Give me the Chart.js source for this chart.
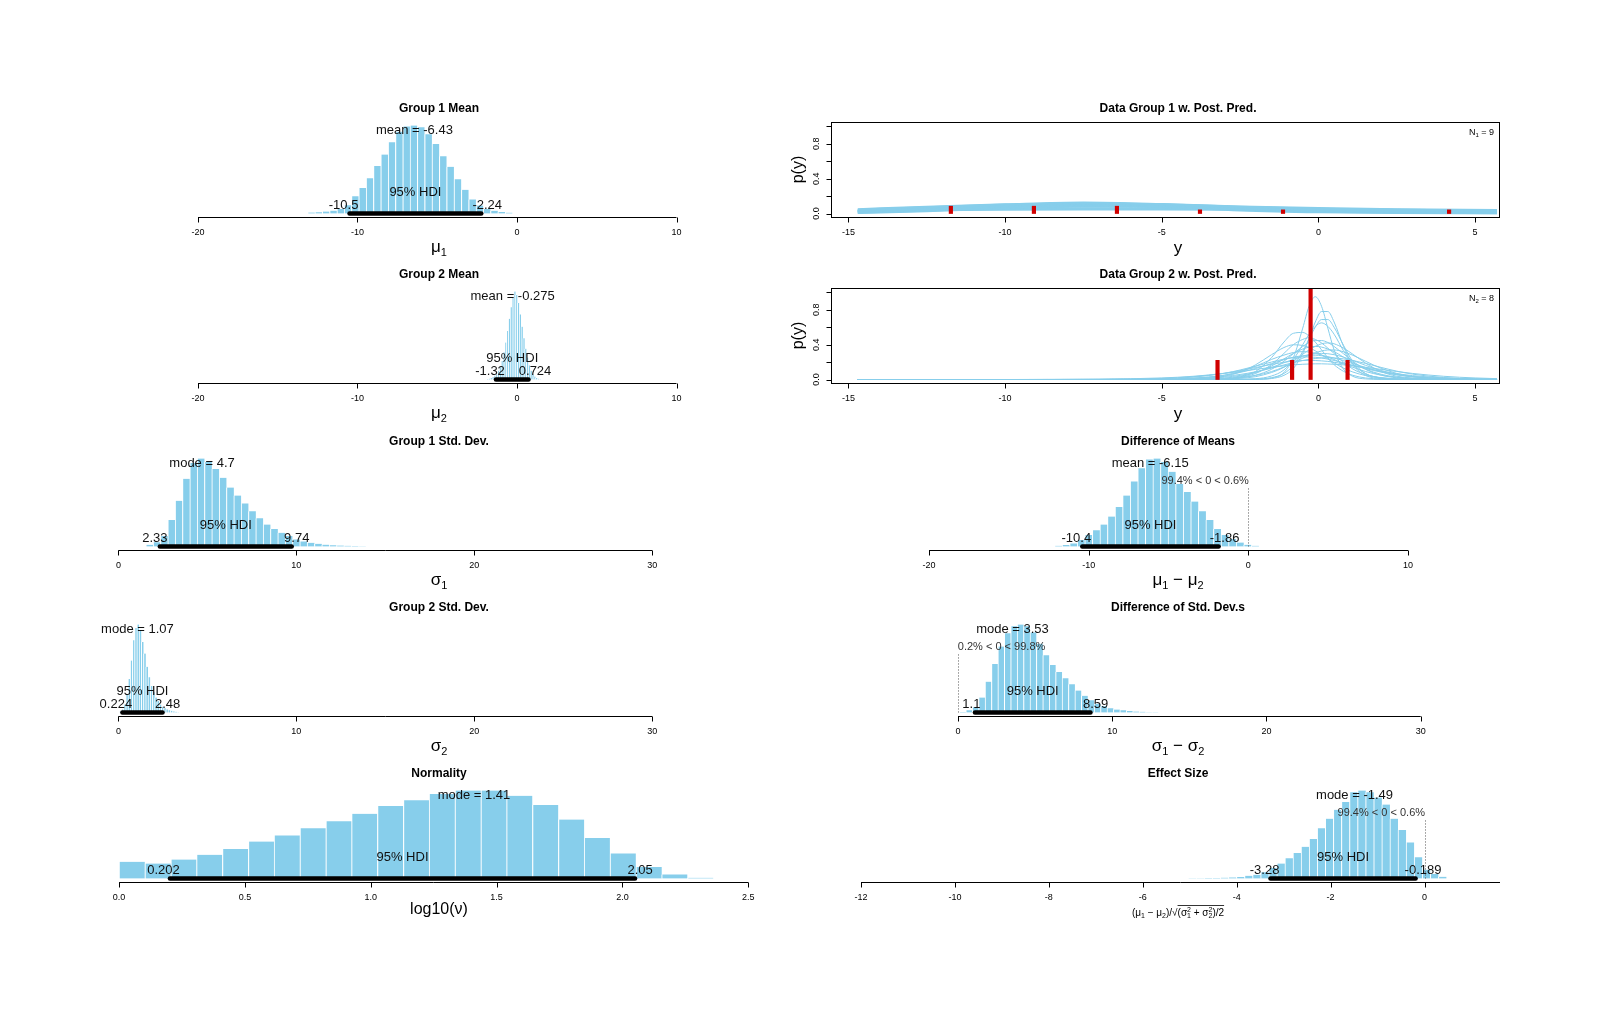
<!DOCTYPE html>
<html>
<head>
<meta charset="utf-8">
<title>BEST posterior summary</title>
<script src="https://cdn.jsdelivr.net/npm/chart.js@4.4.1/dist/chart.umd.min.js"></script>
<style>
  html, body { margin: 0; padding: 0; background: #fff; }
  body { position: relative; width: 1600px; height: 1021px; overflow: hidden; }
  canvas { position: absolute; }
</style>
</head>
<body>
<script>
// ---------- histogram data (bin centres, relative heights) ----------
const mu1Bins = [-12.90, -12.44, -11.98, -11.52, -11.06, -10.61, -10.15, -9.69, -9.23, -8.77, -8.31, -7.85, -7.39, -6.93,
  -6.48, -6.02, -5.56, -5.10, -4.64, -4.18, -3.72, -3.26, -2.80, -2.34, -1.89, -1.43, -0.97, -0.51];
const mu1Dens = [0.01, 0.014, 0.022, 0.032, 0.05, 0.095, 0.195, 0.29, 0.40, 0.54, 0.67, 0.81, 0.93, 0.99,
  1.0, 0.98, 0.90, 0.79, 0.65, 0.53, 0.39, 0.27, 0.16, 0.09, 0.05, 0.03, 0.017, 0.009];

const mu2Bins = [-1.850, -1.736, -1.623, -1.509, -1.396, -1.282, -1.168, -1.055, -0.941, -0.828, -0.714, -0.600, -0.487, -0.373,
  -0.260, -0.146, -0.032, 0.081, 0.195, 0.308, 0.422, 0.536, 0.649, 0.763, 0.876, 0.990, 1.104, 1.217, 1.331, 1.444];
const mu2Dens = [0.005, 0.009, 0.016, 0.028, 0.045, 0.068, 0.10, 0.145, 0.21, 0.31, 0.42, 0.55, 0.69, 0.82,
  0.93, 1.0, 0.96, 0.87, 0.74, 0.60, 0.47, 0.35, 0.25, 0.16, 0.10, 0.06, 0.033, 0.018, 0.009, 0.004];

const sigma1Bins = [1.750, 2.162, 2.574, 2.986, 3.398, 3.810, 4.222, 4.634, 5.046, 5.458, 5.870, 6.282, 6.694, 7.106, 7.518,
  7.930, 8.342, 8.754, 9.166, 9.578, 9.990, 10.402, 10.814, 11.226, 11.638, 12.050, 12.462, 12.874, 13.286, 13.698];
const sigma1Dens = [0.02, 0.047, 0.12, 0.30, 0.52, 0.77, 0.95, 1.0, 0.96, 0.88, 0.78, 0.67, 0.58, 0.49, 0.40,
  0.32, 0.25, 0.20, 0.155, 0.12, 0.08, 0.058, 0.042, 0.03, 0.021, 0.015, 0.011, 0.007, 0.005, 0.003];

const sigma2Bins = [0.100, 0.225, 0.350, 0.475, 0.600, 0.725, 0.850, 0.975, 1.100, 1.225, 1.350, 1.475, 1.600, 1.725,
  1.850, 1.975, 2.100, 2.225, 2.350, 2.475, 2.600, 2.725, 2.850, 2.975, 3.100, 3.225, 3.350];
const sigma2Dens = [0.01, 0.035, 0.09, 0.21, 0.38, 0.59, 0.82, 0.96, 1.0, 0.93, 0.80, 0.67, 0.52, 0.40,
  0.30, 0.23, 0.17, 0.13, 0.09, 0.065, 0.047, 0.035, 0.026, 0.019, 0.012, 0.007, 0.004];

const nuBins = [0.051, 0.154, 0.257, 0.359, 0.462, 0.565, 0.667, 0.770, 0.873, 0.975, 1.078, 1.181, 1.283, 1.386, 1.489,
  1.591, 1.694, 1.797, 1.899, 2.002, 2.105, 2.207, 2.310];
const nuDens = [0.19, 0.17, 0.215, 0.27, 0.335, 0.42, 0.49, 0.57, 0.65, 0.735, 0.825, 0.89, 0.96, 1.0, 1.0,
  0.94, 0.835, 0.67, 0.46, 0.285, 0.13, 0.046, 0.008];

const diffMuBins = [-11.900, -11.426, -10.952, -10.478, -10.004, -9.530, -9.056, -8.582, -8.108, -7.634, -7.160, -6.686,
  -6.212, -5.738, -5.264, -4.790, -4.316, -3.842, -3.368, -2.894, -2.420, -1.946, -1.472, -0.998, -0.524, -0.050, 0.424];
const diffMuDens = [0.008, 0.016, 0.035, 0.075, 0.13, 0.185, 0.25, 0.34, 0.45, 0.58, 0.74, 0.89,
  0.99, 1.0, 0.96, 0.85, 0.71, 0.62, 0.51, 0.40, 0.30, 0.20, 0.13, 0.085, 0.045, 0.02, 0.008];

const diffSdBins = [0.300, 0.716, 1.132, 1.548, 1.964, 2.380, 2.796, 3.212, 3.628, 4.044, 4.460, 4.876, 5.292, 5.708, 6.124,
  6.540, 6.956, 7.372, 7.788, 8.204, 8.620, 9.036, 9.452, 9.868, 10.284, 10.700, 11.116, 11.532, 11.948, 12.364, 12.780];
const diffSdDens = [0.005, 0.025, 0.06, 0.17, 0.35, 0.55, 0.75, 0.90, 0.98, 1.0, 0.98, 0.91, 0.78, 0.65, 0.54,
  0.46, 0.39, 0.32, 0.25, 0.19, 0.14, 0.10, 0.07, 0.047, 0.033, 0.024, 0.016, 0.011, 0.007, 0.004, 0.003];

const effBins = [-4.950, -4.778, -4.606, -4.434, -4.262, -4.090, -3.918, -3.746, -3.574, -3.402, -3.230, -3.058, -2.886,
  -2.714, -2.542, -2.370, -2.198, -2.026, -1.854, -1.682, -1.510, -1.338, -1.166, -0.994, -0.822, -0.650, -0.478, -0.306,
  -0.134, 0.038, 0.210, 0.382];
const effDens = [0.003, 0.004, 0.005, 0.006, 0.009, 0.012, 0.018, 0.03, 0.042, 0.07, 0.12, 0.17, 0.23,
  0.29, 0.36, 0.45, 0.57, 0.68, 0.78, 0.87, 0.98, 1.0, 0.98, 0.92, 0.84, 0.68, 0.55, 0.41,
  0.24, 0.10, 0.05, 0.02];

// ---------- posterior predictive curves ----------
const pp1X = [-14.7, -12.5, -10, -7.5, -5, -2.5, 0, 2.5, 5.7];
const pp1Curves = [
  [0.050, 0.078, 0.105, 0.125, 0.108, 0.080, 0.062, 0.050, 0.040],
  [0.044, 0.072, 0.102, 0.122, 0.106, 0.077, 0.056, 0.043, 0.033],
  [0.036, 0.065, 0.098, 0.119, 0.102, 0.071, 0.049, 0.035, 0.025],
  [0.028, 0.057, 0.093, 0.116, 0.099, 0.065, 0.041, 0.027, 0.018],
  [0.021, 0.049, 0.087, 0.112, 0.094, 0.058, 0.034, 0.020, 0.012],
  [0.015, 0.041, 0.080, 0.107, 0.088, 0.050, 0.027, 0.014, 0.007],
  [0.010, 0.033, 0.072, 0.101, 0.082, 0.043, 0.020, 0.009, 0.004],
  [0.006, 0.025, 0.063, 0.094, 0.075, 0.035, 0.014, 0.005, 0.002],
  [0.025, 0.045, 0.068, 0.088, 0.082, 0.066, 0.050, 0.037, 0.026],
  [0.032, 0.049, 0.066, 0.078, 0.075, 0.064, 0.053, 0.043, 0.034],
  [0.036, 0.046, 0.055, 0.060, 0.058, 0.053, 0.047, 0.041, 0.036],
  [0.030, 0.037, 0.043, 0.046, 0.045, 0.041, 0.036, 0.032, 0.028]
];
const obs1X = [-11.73, -9.08, -6.43, -3.78, -1.13, 4.17];
const obs1Y = [0.084, 0.084, 0.084, 0.042, 0.042, 0.042];

const pp2X = [-14.7, -10, -7, -5, -4, -3, -2.5, -2, -1.5, -1.1, -0.8, -0.5, -0.3, -0.1, 0.1, 0.3, 0.5, 0.8, 1.1, 1.5, 2, 2.5, 3, 4, 5, 5.7];
const pp2Curves = [
  [0, 0, 0, 0, 0, 0, 0, 0.002, 0.016, 0.081, 0.25, 0.59, 0.84, 0.95, 0.84, 0.59, 0.34, 0.12, 0.036, 0.007, 0.001, 0, 0, 0, 0, 0],
  [0, 0, 0, 0, 0, 0, 0, 0.002, 0.011, 0.048, 0.126, 0.30, 0.47, 0.66, 0.78, 0.78, 0.66, 0.38, 0.17, 0.048, 0.009, 0.001, 0, 0, 0, 0],
  [0, 0, 0, 0, 0, 0, 0.001, 0.005, 0.021, 0.07, 0.161, 0.323, 0.465, 0.60, 0.688, 0.688, 0.60, 0.393, 0.206, 0.07, 0.016, 0.003, 0.001, 0, 0, 0],
  [0, 0, 0, 0, 0.001, 0.009, 0.030, 0.094, 0.25, 0.43, 0.53, 0.54, 0.50, 0.43, 0.34, 0.25, 0.17, 0.094, 0.048, 0.018, 0.006, 0.002, 0.001, 0, 0, 0],
  [0, 0, 0, 0, 0, 0.001, 0.003, 0.009, 0.040, 0.11, 0.23, 0.40, 0.52, 0.61, 0.65, 0.61, 0.52, 0.33, 0.18, 0.067, 0.018, 0.004, 0.001, 0, 0, 0],
  [0, 0, 0, 0, 0.001, 0.008, 0.019, 0.05, 0.117, 0.21, 0.296, 0.379, 0.425, 0.447, 0.447, 0.425, 0.379, 0.296, 0.21, 0.117, 0.05, 0.019, 0.008, 0.001, 0, 0],
  [0, 0, 0, 0, 0.001, 0.005, 0.013, 0.033, 0.08, 0.14, 0.21, 0.29, 0.34, 0.38, 0.41, 0.42, 0.41, 0.36, 0.29, 0.19, 0.092, 0.038, 0.017, 0.003, 0, 0],
  [0, 0, 0, 0, 0.001, 0.009, 0.026, 0.070, 0.17, 0.30, 0.40, 0.46, 0.48, 0.46, 0.42, 0.36, 0.30, 0.20, 0.12, 0.058, 0.021, 0.007, 0.003, 0, 0, 0],
  [0, 0, 0, 0.001, 0.007, 0.038, 0.086, 0.17, 0.284, 0.367, 0.398, 0.391, 0.367, 0.329, 0.284, 0.237, 0.191, 0.131, 0.086, 0.046, 0.020, 0.008, 0.004, 0.001, 0, 0],
  [0, 0, 0, 0, 0.003, 0.017, 0.038, 0.080, 0.155, 0.236, 0.30, 0.35, 0.372, 0.38, 0.372, 0.35, 0.32, 0.257, 0.195, 0.12, 0.060, 0.027, 0.012, 0.002, 0, 0],
  [0, 0, 0, 0.001, 0.002, 0.011, 0.023, 0.047, 0.091, 0.144, 0.193, 0.245, 0.278, 0.308, 0.327, 0.339, 0.339, 0.318, 0.278, 0.21, 0.129, 0.070, 0.035, 0.008, 0.002, 0.001],
  [0, 0, 0, 0.004, 0.013, 0.050, 0.092, 0.153, 0.23, 0.28, 0.31, 0.32, 0.315, 0.30, 0.28, 0.256, 0.23, 0.18, 0.14, 0.092, 0.050, 0.026, 0.013, 0.004, 0.001, 0],
  [0, 0, 0, 0.002, 0.007, 0.026, 0.047, 0.084, 0.138, 0.192, 0.232, 0.267, 0.285, 0.296, 0.30, 0.296, 0.285, 0.257, 0.219, 0.163, 0.104, 0.060, 0.032, 0.009, 0.002, 0.001],
  [0, 0, 0, 0.003, 0.016, 0.049, 0.081, 0.127, 0.183, 0.227, 0.256, 0.273, 0.279, 0.279, 0.273, 0.263, 0.246, 0.217, 0.183, 0.139, 0.09, 0.055, 0.031, 0.010, 0.003, 0.001],
  [0, 0, 0.001, 0.01, 0.027, 0.072, 0.109, 0.154, 0.2, 0.234, 0.251, 0.259, 0.259, 0.255, 0.247, 0.234, 0.219, 0.192, 0.163, 0.126, 0.085, 0.055, 0.033, 0.012, 0.004, 0.002],
  [0, 0, 0.001, 0.004, 0.012, 0.036, 0.058, 0.089, 0.13, 0.167, 0.194, 0.218, 0.231, 0.241, 0.248, 0.25, 0.248, 0.237, 0.218, 0.185, 0.139, 0.096, 0.062, 0.023, 0.008, 0.004],
  [0, 0, 0.002, 0.013, 0.032, 0.072, 0.102, 0.138, 0.173, 0.198, 0.211, 0.218, 0.22, 0.218, 0.214, 0.208, 0.198, 0.18, 0.159, 0.13, 0.095, 0.066, 0.045, 0.018, 0.007, 0.004],
  [0, 0, 0.004, 0.018, 0.037, 0.070, 0.092, 0.116, 0.140, 0.157, 0.168, 0.175, 0.178, 0.18, 0.18, 0.178, 0.175, 0.168, 0.157, 0.140, 0.116, 0.092, 0.070, 0.037, 0.018, 0.010]
];
const obs2X = [-3.22, -0.84, -0.25, 0.93];
const obs2Y = [0.22, 0.22, 1.1, 0.22];

// ---------- axis ticks ----------
const meanTicks = [-20, -10, 0, 10];
const sdTicks = [0, 10, 20, 30];
const nuTicks = [0, 0.5, 1, 1.5, 2, 2.5];
const nuTickText = ['0.0', '0.5', '1.0', '1.5', '2.0', '2.5'];
const effTicks = [-12, -10, -8, -6, -4, -2, 0];
const ppXTicks = [-15, -10, -5, 0, 5];
const ppYTicks = [0, 0.2, 0.4, 0.6, 0.8, 1.0];
const ppYTickText = ['0.0', '', '0.4', '', '0.8', ''];

// ---------- layout ----------
const SKY = '#87CEEB';
const FONT = '"Liberation Sans", Arial, Helvetica, sans-serif';
const LEFT = { left: 0, width: 800, areaL: 100, areaR: 778, mid: 439 };
const RIGHT = { left: 770, width: 830, areaL: 831, areaR: 1500, mid: 1178 };
const ROW_TOP = [85, 251, 418, 584, 750];
const CANVAS_H = 180, AREA_TOP = 37, AREA_BOTTOM = 132;

function makeCanvas(col, row) {
  const c = document.createElement('canvas');
  c.width = col.width; c.height = CANVAS_H;
  c.style.left = col.left + 'px'; c.style.top = ROW_TOP[row] + 'px';
  c.style.width = col.width + 'px'; c.style.height = CANVAS_H + 'px';
  document.body.appendChild(c);
  return c;
}

// cal = [value1, pagePx1, value2, pagePx2]
function baseOptions(col, cal, ymin, ymax) {
  const ppu = (cal[3] - cal[1]) / (cal[2] - cal[0]);
  return {
    responsive: false, animation: false, events: [],
    layout: { padding: { left: col.areaL - col.left, right: col.left + col.width - col.areaR, top: AREA_TOP, bottom: CANVAS_H - AREA_BOTTOM } },
    plugins: { legend: { display: false }, tooltip: { enabled: false }, title: { display: false } },
    scales: {
      x: { type: 'linear', min: cal[0] - (cal[1] - col.areaL) / ppu, max: cal[0] + (col.areaR - cal[1]) / ppu, offset: false, display: false },
      y: { type: 'linear', min: ymin, max: ymax, display: false }
    }
  };
}

function rich(ctx, segs, cx, base) {
  const ws = [];
  let w = 0;
  segs.forEach(s => { ctx.font = s.z + 'px ' + FONT; const m = ctx.measureText(s.t).width; ws.push(m); if (!s.stay) w += m; });
  let x = cx - w / 2, o0 = null, o1 = null;
  ctx.textAlign = 'left'; ctx.textBaseline = 'alphabetic';
  segs.forEach((s, i) => {
    ctx.font = s.z + 'px ' + FONT;
    ctx.fillText(s.t, x, base + (s.dy || 0));
    if (s.ov) { if (o0 === null) o0 = x; o1 = x + ws[i]; }
    if (!s.stay) x += ws[i];
  });
  if (o0 !== null) {
    ctx.lineWidth = 0.8; ctx.strokeStyle = '#000';
    ctx.beginPath(); ctx.moveTo(o0, base - 10.5); ctx.lineTo(o1, base - 10.5); ctx.stroke();
  }
}

function drawTitle(ctx, col, text) {
  ctx.fillStyle = '#000';
  ctx.font = 'bold 12px ' + FONT;
  ctx.textAlign = 'center'; ctx.textBaseline = 'middle';
  ctx.fillText(text, col.mid - col.left, 24);
}

function histPlugin(col, p) {
  return {
    id: 'histDecor',
    afterDatasetsDraw(chart) {
      const ctx = chart.ctx, a = chart.chartArea;
      const X = v => chart.scales.x.getPixelForValue(v);
      const Y = v => chart.scales.y.getPixelForValue(v);
      ctx.save();
      // comparison value
      if (p.comp) {
        ctx.strokeStyle = '#555'; ctx.lineWidth = 1; ctx.setLineDash([1, 2]);
        ctx.beginPath(); ctx.moveTo(Math.round(X(0)) + 0.5, Y(0)); ctx.lineTo(Math.round(X(0)) + 0.5, Y(0.672)); ctx.stroke();
        ctx.setLineDash([]);
        ctx.font = '11px ' + FONT; ctx.fillStyle = '#333';
        ctx.textAlign = 'left'; ctx.textBaseline = 'middle';
        const w = ctx.measureText(p.comp[1]).width;
        ctx.fillText(p.comp[1], X(0) - p.comp[0] / 100 * w, Y(0.749));
      }
      // HDI bar
      ctx.strokeStyle = '#000'; ctx.lineWidth = 4.5; ctx.lineCap = 'round';
      ctx.beginPath(); ctx.moveTo(X(p.hdi[0]), Y(0)); ctx.lineTo(X(p.hdi[1]), Y(0)); ctx.stroke();
      ctx.lineCap = 'butt';
      // annotations
      ctx.fillStyle = '#111'; ctx.font = '13px ' + FONT;
      ctx.textAlign = 'center'; ctx.textBaseline = 'middle';
      ctx.fillText(p.centerText, X(p.center), Y(0.94));
      ctx.fillText('95% HDI', X((p.hdi[0] + p.hdi[1]) / 2), Y(0.234));
      ctx.textAlign = 'left';
      const w0 = ctx.measureText(p.hdiText[0]).width, w1 = ctx.measureText(p.hdiText[1]).width;
      ctx.fillText(p.hdiText[0], X(p.hdi[0]) - 0.7 * w0, Y(0.097));
      ctx.fillText(p.hdiText[1], X(p.hdi[1]) - 0.3 * w1, Y(0.097));
      // axis
      const ax = Math.round(a.bottom) + 0.5;
      const x0 = X(p.ticks[0]), x1 = p.toEdge ? a.right : X(p.ticks[p.ticks.length - 1]);
      ctx.strokeStyle = '#000'; ctx.lineWidth = 1;
      ctx.beginPath(); ctx.moveTo(x0, ax); ctx.lineTo(x1, ax); ctx.stroke();
      ctx.font = '9px ' + FONT; ctx.textAlign = 'center'; ctx.fillStyle = '#000';
      p.ticks.forEach((t, i) => {
        const tx = Math.round(X(t)) + 0.5;
        ctx.beginPath(); ctx.moveTo(tx, ax); ctx.lineTo(tx, ax + 5); ctx.stroke();
        ctx.fillText(p.tickText ? p.tickText[i] : String(t), X(t), 148);
      });
      ctx.fillStyle = '#000';
      rich(ctx, p.label, col.mid - col.left, p.labelBase || 167);
      drawTitle(ctx, col, p.title);
      ctx.restore();
    }
  };
}

function histPanel(col, row, p) {
  new Chart(makeCanvas(col, row), {
    type: 'bar',
    data: {
      datasets: [{
        data: p.bins.map((x, i) => ({ x: x, y: p.dens[i] })),
        backgroundColor: SKY, borderColor: '#fff',
        borderWidth: { left: 1, right: 0, top: 0, bottom: 0 },
        barPercentage: 1, categoryPercentage: 1
      }]
    },
    options: baseOptions(col, p.cal, -0.04, 1.04),
    plugins: [histPlugin(col, p)]
  });
}

function ppPlugin(col, p) {
  return {
    id: 'ppDecor',
    afterDatasetsDraw(chart) {
      const ctx = chart.ctx, a = chart.chartArea;
      const X = v => chart.scales.x.getPixelForValue(v);
      const Y = v => chart.scales.y.getPixelForValue(v);
      ctx.save();
      ctx.strokeStyle = '#000'; ctx.lineWidth = 1; ctx.fillStyle = '#000';
      const L = Math.round(a.left) + 0.5, R = Math.round(a.right) - 0.5, T = Math.round(a.top) + 0.5, B = Math.round(a.bottom) + 0.5;
      ctx.strokeRect(L, T, R - L, B - T);
      ctx.font = '9px ' + FONT; ctx.textAlign = 'center'; ctx.textBaseline = 'middle';
      ppXTicks.forEach(t => {
        const tx = Math.round(X(t)) + 0.5;
        ctx.beginPath(); ctx.moveTo(tx, B); ctx.lineTo(tx, B + 5); ctx.stroke();
        ctx.fillText(String(t), X(t), 148);
      });
      ppYTicks.forEach((t, i) => {
        const ty = Math.round(Y(t)) + 0.5;
        ctx.beginPath(); ctx.moveTo(L - 5, ty); ctx.lineTo(L, ty); ctx.stroke();
        if (ppYTickText[i]) {
          ctx.save(); ctx.translate(817 - col.left, Y(t)); ctx.rotate(-Math.PI / 2);
          ctx.fillText(ppYTickText[i], 0, 0); ctx.restore();
        }
      });
      ctx.save(); ctx.translate(799 - col.left, (a.top + a.bottom) / 2); ctx.rotate(-Math.PI / 2);
      ctx.font = '16px ' + FONT; ctx.fillText('p(y)', 0, 0); ctx.restore();
      rich(ctx, [{ t: 'y', z: 17 }], col.mid - col.left, 168);
      // sample size label
      const nx = 1494 - col.left, ny = 50;
      ctx.textAlign = 'left'; ctx.textBaseline = 'alphabetic';
      ctx.font = '9px ' + FONT; const wN = ctx.measureText('N').width, wE = ctx.measureText(' = ' + p.n).width;
      ctx.font = '6px ' + FONT; const wS = ctx.measureText(p.sub).width;
      const sx = nx - (wN + wS + wE);
      ctx.font = '9px ' + FONT; ctx.fillText('N', sx, ny);
      ctx.font = '6px ' + FONT; ctx.fillText(p.sub, sx + wN, ny + 2);
      ctx.font = '9px ' + FONT; ctx.fillText(' = ' + p.n, sx + wN + wS, ny);
      drawTitle(ctx, col, p.title);
      ctx.restore();
    }
  };
}

function ppPanel(col, row, p) {
  const datasets = p.curves.map(ys => ({
    type: 'line',
    data: p.xs.map((x, i) => ({ x: x, y: ys[i] })),
    borderColor: SKY, borderWidth: p.lw, pointRadius: 0,
    cubicInterpolationMode: 'monotone', fill: false, order: 1
  }));
  datasets.push({
    type: 'bar',
    data: p.obsX.map((x, i) => ({ x: x, y: p.obsY[i] })),
    backgroundColor: '#D00000', barThickness: 3.5, order: 0
  });
  new Chart(makeCanvas(col, row), {
    type: 'line',
    data: { datasets: datasets },
    options: baseOptions(col, [-15, 848.4, 5, 1475.1], -0.04, 1.05),
    plugins: [ppPlugin(col, p)]
  });
}

const sub = (g, d) => [{ t: g, z: 17 }, { t: d, z: 11, dy: 4 }];

histPanel(LEFT, 0, { title: 'Group 1 Mean', bins: mu1Bins, dens: mu1Dens, cal: [-20, 198, 10, 676.5],
  center: -6.43, centerText: 'mean = -6.43', hdi: [-10.5, -2.24], hdiText: ['-10.5', '-2.24'],
  ticks: meanTicks, label: sub('μ', '1') });
histPanel(LEFT, 1, { title: 'Group 2 Mean', bins: mu2Bins, dens: mu2Dens, cal: [-20, 198, 10, 676.5],
  center: -0.275, centerText: 'mean = -0.275', hdi: [-1.32, 0.724], hdiText: ['-1.32', '0.724'],
  ticks: meanTicks, label: sub('μ', '2') });
histPanel(LEFT, 2, { title: 'Group 1 Std. Dev.', bins: sigma1Bins, dens: sigma1Dens, cal: [0, 118.4, 30, 652.2],
  center: 4.7, centerText: 'mode = 4.7', hdi: [2.33, 9.74], hdiText: ['2.33', '9.74'],
  ticks: sdTicks, label: sub('σ', '1') });
histPanel(LEFT, 3, { title: 'Group 2 Std. Dev.', bins: sigma2Bins, dens: sigma2Dens, cal: [0, 118.4, 30, 652.2],
  center: 1.07, centerText: 'mode = 1.07', hdi: [0.224, 2.48], hdiText: ['0.224', '2.48'],
  ticks: sdTicks, label: sub('σ', '2') });
histPanel(LEFT, 4, { title: 'Normality', bins: nuBins, dens: nuDens, cal: [0, 119.1, 2.5, 748.3],
  center: 1.41, centerText: 'mode = 1.41', hdi: [0.202, 2.05], hdiText: ['0.202', '2.05'],
  ticks: nuTicks, tickText: nuTickText, label: [{ t: 'log10(ν)', z: 16 }], labelBase: 164 });

ppPanel(RIGHT, 0, { title: 'Data Group 1 w. Post. Pred.', xs: pp1X, curves: pp1Curves, lw: 2,
  obsX: obs1X, obsY: obs1Y, sub: '1', n: 9 });
ppPanel(RIGHT, 1, { title: 'Data Group 2 w. Post. Pred.', xs: pp2X, curves: pp2Curves, lw: 1,
  obsX: obs2X, obsY: obs2Y, sub: '2', n: 8 });

histPanel(RIGHT, 2, { title: 'Difference of Means', bins: diffMuBins, dens: diffMuDens, cal: [-20, 929, 10, 1408],
  center: -6.15, centerText: 'mean = -6.15', hdi: [-10.4, -1.86], hdiText: ['-10.4', '-1.86'],
  comp: [99.4, '99.4% < 0 < 0.6%'], ticks: meanTicks,
  label: [{ t: 'μ', z: 17 }, { t: '1', z: 11, dy: 4 }, { t: ' − ', z: 17 }, { t: 'μ', z: 17 }, { t: '2', z: 11, dy: 4 }] });
histPanel(RIGHT, 3, { title: 'Difference of Std. Dev.s', bins: diffSdBins, dens: diffSdDens, cal: [0, 958, 30, 1420.7],
  center: 3.53, centerText: 'mode = 3.53', hdi: [1.1, 8.59], hdiText: ['1.1', '8.59'],
  comp: [0.2, '0.2% < 0 < 99.8%'], ticks: sdTicks,
  label: [{ t: 'σ', z: 17 }, { t: '1', z: 11, dy: 4 }, { t: ' − ', z: 17 }, { t: 'σ', z: 17 }, { t: '2', z: 11, dy: 4 }] });
histPanel(RIGHT, 4, { title: 'Effect Size', bins: effBins, dens: effDens, cal: [-12, 861, 0, 1424.5],
  center: -1.49, centerText: 'mode = -1.49', hdi: [-3.28, -0.189], hdiText: ['-3.28', '-0.189'],
  comp: [99.4, '99.4% < 0 < 0.6%'], ticks: effTicks, toEdge: true, labelBase: 166,
  label: [{ t: '(μ', z: 10 }, { t: '1', z: 7, dy: 2 }, { t: ' − μ', z: 10 }, { t: '2', z: 7, dy: 2 }, { t: ')/√', z: 10 },
    { t: '(σ', z: 10, ov: 1 }, { t: '1', z: 7, dy: 2, stay: 1, ov: 1 }, { t: '2', z: 7, dy: -4, ov: 1 },
    { t: ' + σ', z: 10, ov: 1 }, { t: '2', z: 7, dy: 2, stay: 1, ov: 1 }, { t: '2', z: 7, dy: -4, ov: 1 },
    { t: ')/2', z: 10, ov: 1 }] });
</script>
</body>
</html>
